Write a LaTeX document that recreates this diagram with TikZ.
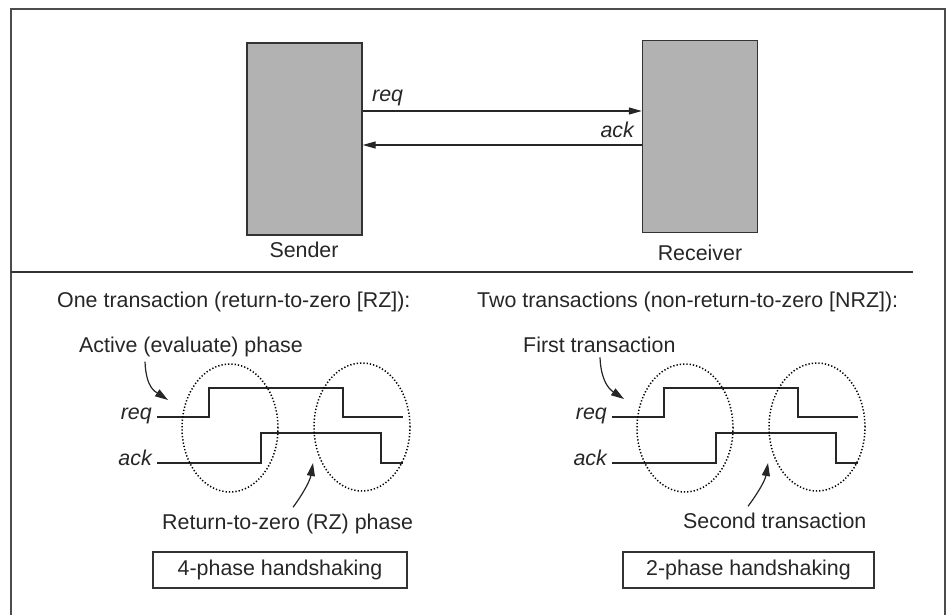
\documentclass[tikz,border=0pt]{standalone}
\usepackage{fontspec}
\setmainfont{Liberation Sans}
\usetikzlibrary{arrows.meta, shapes.geometric, positioning}

\begin{document}
\begin{tikzpicture}[x=1pt, y=-1pt, font=\fontsize{21.4}{25}\selectfont,
  unit box/.style={draw=black!80, line width=1.4pt, fill=black!30, minimum width=115pt, minimum height=192pt, inner sep=0pt},
  phase box/.style={draw=black!80, line width=1.4pt, minimum width=254pt, minimum height=36pt, inner sep=0pt, text=black!85},
  txt/.style={inner sep=0pt, text=black!85},
  sig/.style={txt, font=\fontsize{21.4}{25}\selectfont\itshape},
  link/.style={line width=1.3pt, black!85, -{Triangle[length=13pt,width=7pt]}},
  wave/.style={line width=1.5pt, black!85},
  ring/.style={ellipse, draw=black, line width=1.5pt, dash pattern=on 1.3pt off 2pt, minimum width=96pt, minimum height=128pt, inner sep=0pt},
  hint/.style={line width=1.2pt, black!85, -{Triangle[length=13pt,width=8pt]}}]
  \useasboundingbox (0,0) rectangle (947,615);
  % frame and divider
  \draw[black!70, line width=1.5pt] (11,615) -- (11,9) -- (945,9) -- (945,615);
  \draw[black!80, line width=1.3pt] (11,272) -- (913,272);

  % sender and receiver
  \node[unit box] (sender) at (304.5,139) {};
  \node[unit box] (receiver) at (700,136.5) {};
  \node[txt, anchor=base] (senderLbl) at (304,257) {Sender};
  \node[txt, anchor=base] (receiverLbl) at (700,260) {Receiver};
  \draw[link] ([yshift=28pt]sender.east) -- ([yshift=28pt]sender.east -| receiver.west);
  \draw[link] ([yshift=-6pt]sender.east -| receiver.west) -- ([yshift=-6pt]sender.east);
  \node[sig, anchor=base west] (reqTop) at (372,102) {req};
  \node[sig, anchor=base east] (ackTop) at (634,138) {ack};

  % the two handshakes
  \node[txt, anchor=base west] (rzHead) at (57,307) {One transaction (return-to-zero [RZ]):};
  \node[txt, anchor=base west] (nrzHead) at (477,307) {Two transactions (non-return-to-zero [NRZ]):};

  \foreach \dx/\p in {0/L, 455/R} {
    \node[sig, anchor=mid east] (req\p) at (152+\dx,417) {req};
    \node[sig, anchor=mid east] (ack\p) at (152+\dx,463) {ack};
    \draw[wave] ([xshift=5pt]req\p.mid east) -- ++(52,0) -- ++(0,-29) -- ++(134,0) -- ++(0,29) -- ++(60,0);
    \draw[wave] ([xshift=5pt]ack\p.mid east) -- ++(104,0) -- ++(0,-30) -- ++(120,0) -- ++(0,30) -- ++(22,0);
    \node[ring] (open\p) at (230+\dx,428) {};
    \node[ring] (close\p) at (362+\dx,427) {};
  }

  \node[txt, anchor=base west] (activeLbl) at (79,352) {Active (evaluate) phase};
  \coordinate (activeTip) at (168,400);
  \draw[hint] ([shift={(66pt,-5pt)}]activeLbl.south west) .. controls +(1,27) and +(-12,-8) .. (activeTip);

  \node[txt, anchor=base west] (firstLbl) at (523,352) {First transaction};
  \coordinate (firstTip) at (624,399);
  \draw[hint] ([shift={(77pt,-5pt)}]firstLbl.south west) .. controls +(1,27) and +(-12,-8) .. (firstTip);

  \node[txt, anchor=base west] (rzLbl) at (162,529) {Return-to-zero (RZ) phase};
  \coordinate (rzTip) at (313,463);
  \draw[hint] ([shift={(131pt,6pt)}]rzLbl.north west) .. controls +(9,-12) and +(-3,18) .. (rzTip);

  \node[txt, anchor=base west] (secondLbl) at (683,528) {Second transaction};
  \coordinate (secondTip) at (768,463);
  \draw[hint] ([shift={(65pt,6pt)}]secondLbl.north west) .. controls +(9,-12) and +(-3,18) .. (secondTip);

  \node[phase box] (fourBox) at (280,570) {4-phase handshaking};
  \node[phase box, minimum width=251pt] (twoBox) at (748.5,570) {2-phase handshaking};
\end{tikzpicture}
\end{document}
